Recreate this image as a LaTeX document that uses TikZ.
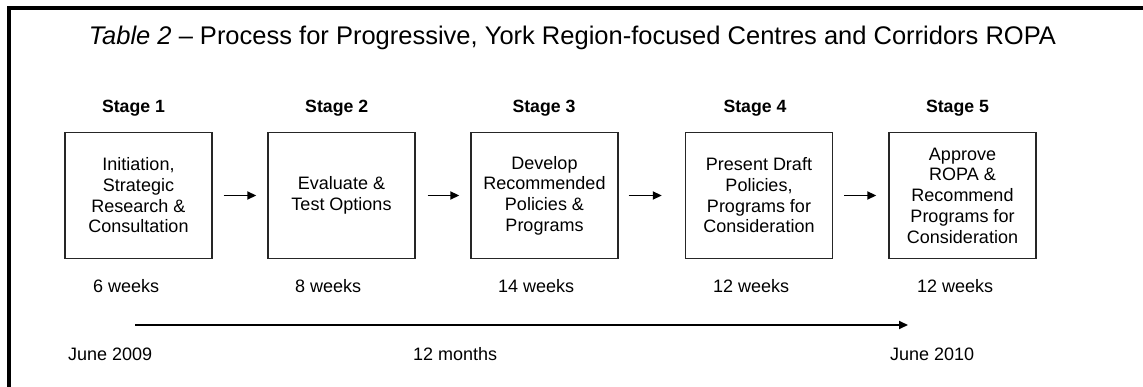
\documentclass[tikz,border=0pt]{standalone}
\usepackage{fontspec}
\setmainfont{Liberation Sans}
\usetikzlibrary{arrows.meta}
\begin{document}
\begin{tikzpicture}[x=1pt,y=-1pt,
  stagebox/.style={draw=black!85, line width=1.4pt, minimum width=147pt, minimum height=126pt, inner sep=0pt, align=center, font=\fontsize{18}{20.7}\selectfont},
  stagelabel/.style={anchor=base, inner sep=0pt, font=\fontsize{17.7}{20}\selectfont\bfseries},
  plainlabel/.style={anchor=base west, inner sep=0pt, font=\fontsize{18}{20}\selectfont},
  flow/.style={line width=1.8pt, -{Triangle[length=9pt,width=8pt]}}
]
\useasboundingbox (0,0) rectangle (1143,387);
\clip (0,0) rectangle (1143,387);
\fill[white] (0,0) rectangle (1143,387);
% frame (top and left edges visible)
\draw[line width=4pt] (8.5,400) -- (8.5,8.5) -- (1160,8.5);

% title
\node[anchor=base, inner sep=0pt, font=\fontsize{25.5}{30}\selectfont] (title) at (572.5,45)
  {\textit{Table 2} – Process for Progressive, York Region-focused Centres and Corridors ROPA};

% stage labels
\node[stagelabel] (s1) at (133.5,113) {Stage 1};
\node[stagelabel] (s2) at (336.7,113) {Stage 2};
\node[stagelabel] (s3) at (544,113) {Stage 3};
\node[stagelabel] (s4) at (755,113) {Stage 4};
\node[stagelabel] (s5) at (957.5,113) {Stage 5};

% boxes
\node[stagebox] (b1) at (138.5,195.5) {Initiation,\\Strategic\\Research \&\\Consultation};
\node[stagebox] (b2) at (341.5,195.5) {Evaluate \&\\Test Options};
\node[stagebox] (b3) at (544.5,195.5) {Develop\\Recommended\\Policies \&\\Programs};
\node[stagebox] (b4) at (759,195.5) {Present Draft\\Policies,\\Programs for\\Consideration};
\node[stagebox] (b5) at (962.5,195.5) {Approve\\ROPA \&\\Recommend\\Programs for\\Consideration};

% arrows between boxes
\draw[flow] ([xshift=11pt]b1.east) -- ([xshift=-11pt]b2.west);
\draw[flow] ([xshift=12pt]b2.east) -- ([xshift=-11pt]b3.west);
\draw[flow] ([xshift=10pt]b3.east) -- ([xshift=-23pt]b4.west);
\draw[flow] ([xshift=11pt]b4.east) -- ([xshift=-12pt]b5.west);

% durations
\node[plainlabel] (w1) at (93,293) {6 weeks};
\node[plainlabel] (w2) at (295,293) {8 weeks};
\node[plainlabel] (w3) at (498,293) {14 weeks};
\node[plainlabel] (w4) at (713,293) {12 weeks};
\node[plainlabel] (w5) at (917,293) {12 weeks};

% timeline
\coordinate (ts) at (135,325);
\coordinate (te) at (908,325);
\draw[flow] (ts) -- (te);
\node[plainlabel] (d1) at (68,360) {June 2009};
\node[plainlabel] (d2) at (413,360) {12 months};
\node[plainlabel] (d3) at (890,360) {June 2010};
\end{tikzpicture}
\end{document}
